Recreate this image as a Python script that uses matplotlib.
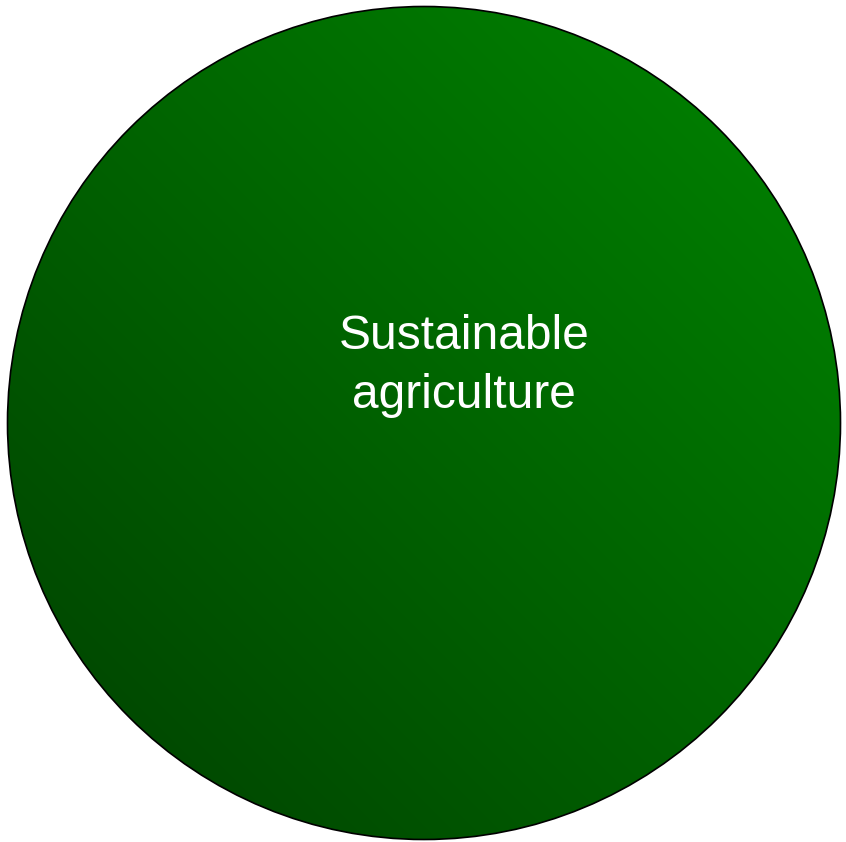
import matplotlib
matplotlib.use("Agg")
import matplotlib.pyplot as plt
import numpy as np
from matplotlib.patches import Circle

W, H = 846, 842

# circle geometry in pixel coordinates
center = (424, 423)
radius = 416.5
label = "Sustainable\nagriculture"
label_pos = (464, 366)

# gradient colours: bottom-left -> top-right
color_dark = np.array([0, 64, 0]) / 255
color_light = np.array([0, 134, 0]) / 255

fig = plt.figure(figsize=(W / 100, H / 100), dpi=100)
ax = fig.add_axes([0, 0, 1, 1])
ax.set_xlim(0, W)
ax.set_ylim(H, 0)
ax.axis("off")

xs = np.linspace(center[0] - radius, center[0] + radius, 400)
ys = np.linspace(center[1] - radius, center[1] + radius, 400)
gx, gy = np.meshgrid(xs, ys)
# t goes 0 at bottom-left to 1 at top-right
t = ((gx - xs[0]) + (ys[-1] - gy)) / (4 * radius)
t = np.clip(t, 0, 1)[..., None]
img = color_dark + (color_light - color_dark) * t

im = ax.imshow(img, extent=(xs[0], xs[-1], ys[-1], ys[0]), origin="upper",
               interpolation="bilinear", zorder=1)
clip = Circle(center, radius, transform=ax.transData, facecolor="none")
im.set_clip_path(clip)
ax.add_patch(Circle(center, radius, facecolor="none", edgecolor="black",
                    linewidth=1.2, zorder=2))

ax.text(label_pos[0], label_pos[1], label, color="white", fontsize=34.5,
        family="Liberation Sans", ha="center", va="center",
        linespacing=1.42, zorder=3)

fig.savefig("out.png", dpi=100)
